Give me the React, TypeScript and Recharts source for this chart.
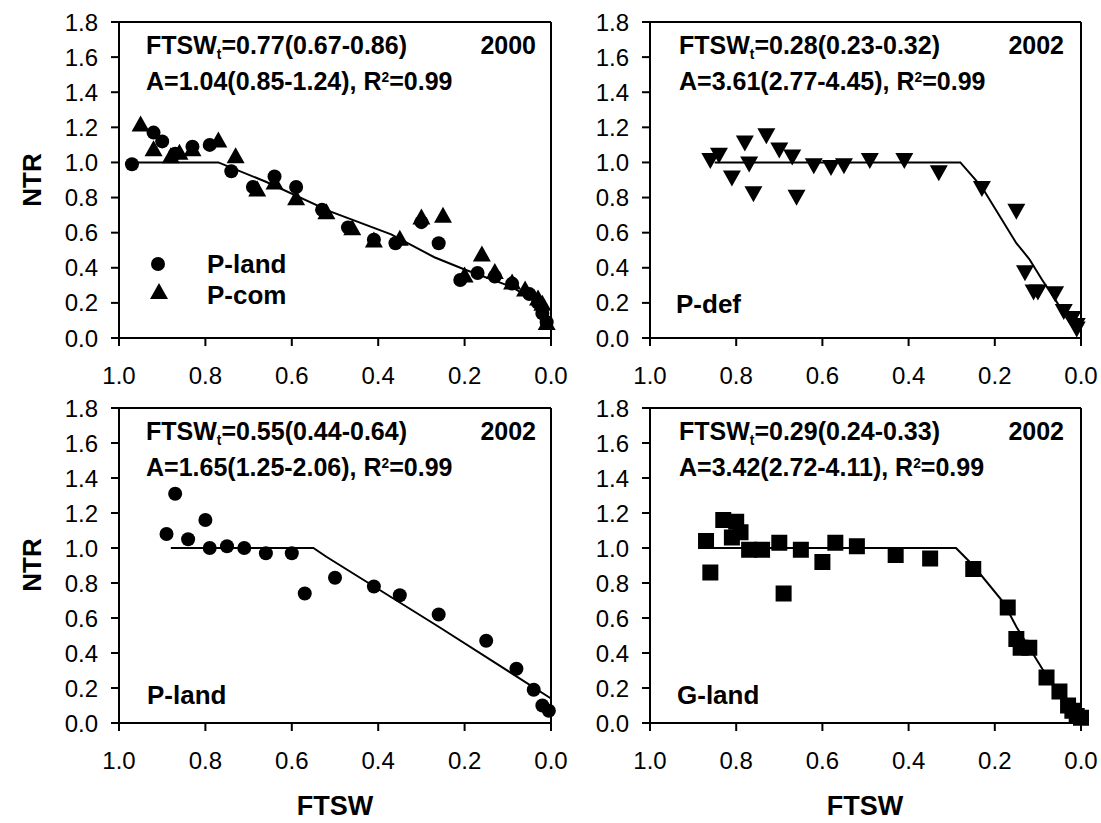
import React from "react";
import { ScatterChart, Scatter, XAxis, YAxis, ReferenceLine } from "recharts";

type Pt = { x: number; y: number };

const FONT = "'Liberation Sans', Arial, Helvetica, sans-serif";

const xTicks = [0, 0.2, 0.4, 0.6, 0.8, 1.0];
const yTicks = [0, 0.2, 0.4, 0.6, 0.8, 1.0, 1.2, 1.4, 1.6, 1.8];

// 2000, P-land (circles)
const pLand2000: Pt[] = [
  { x: 0.97, y: 0.99 }, { x: 0.92, y: 1.17 }, { x: 0.9, y: 1.12 }, { x: 0.87, y: 1.05 },
  { x: 0.83, y: 1.09 }, { x: 0.79, y: 1.1 }, { x: 0.74, y: 0.95 }, { x: 0.69, y: 0.86 },
  { x: 0.64, y: 0.92 }, { x: 0.59, y: 0.86 }, { x: 0.53, y: 0.73 }, { x: 0.47, y: 0.63 },
  { x: 0.41, y: 0.56 }, { x: 0.36, y: 0.54 }, { x: 0.3, y: 0.66 }, { x: 0.26, y: 0.54 },
  { x: 0.21, y: 0.33 }, { x: 0.17, y: 0.37 }, { x: 0.13, y: 0.35 }, { x: 0.09, y: 0.31 },
  { x: 0.05, y: 0.25 }, { x: 0.03, y: 0.2 }, { x: 0.02, y: 0.14 }, { x: 0.01, y: 0.09 },
];

// 2000, P-com (triangles)
const pCom2000: Pt[] = [
  { x: 0.95, y: 1.21 }, { x: 0.92, y: 1.07 }, { x: 0.88, y: 1.03 }, { x: 0.86, y: 1.05 },
  { x: 0.83, y: 1.07 }, { x: 0.77, y: 1.12 }, { x: 0.73, y: 1.03 }, { x: 0.68, y: 0.84 },
  { x: 0.64, y: 0.88 }, { x: 0.59, y: 0.79 }, { x: 0.52, y: 0.71 }, { x: 0.46, y: 0.62 },
  { x: 0.41, y: 0.55 }, { x: 0.35, y: 0.56 }, { x: 0.3, y: 0.68 }, { x: 0.25, y: 0.69 },
  { x: 0.2, y: 0.35 }, { x: 0.16, y: 0.47 }, { x: 0.13, y: 0.37 }, { x: 0.09, y: 0.31 },
  { x: 0.06, y: 0.27 }, { x: 0.03, y: 0.22 }, { x: 0.02, y: 0.19 }, { x: 0.01, y: 0.08 },
];

const fit2000: Pt[] = [
  { x: 0.97, y: 1.0 }, { x: 0.77, y: 1.0 }, { x: 0.66, y: 0.89 }, { x: 0.51, y: 0.72 },
  { x: 0.37, y: 0.59 }, { x: 0.27, y: 0.46 }, { x: 0.2, y: 0.39 }, { x: 0.09, y: 0.29 },
  { x: 0.03, y: 0.2 }, { x: 0.0, y: 0.1 },
];

// 2002, P-def (inverted triangles)
const pDef2002: Pt[] = [
  { x: 0.86, y: 1.02 }, { x: 0.84, y: 1.05 }, { x: 0.81, y: 0.92 }, { x: 0.78, y: 1.12 },
  { x: 0.77, y: 1.0 }, { x: 0.76, y: 0.83 }, { x: 0.73, y: 1.16 }, { x: 0.7, y: 1.08 },
  { x: 0.67, y: 1.04 }, { x: 0.66, y: 0.81 }, { x: 0.62, y: 0.99 }, { x: 0.58, y: 0.98 },
  { x: 0.55, y: 0.99 }, { x: 0.49, y: 1.02 }, { x: 0.41, y: 1.02 }, { x: 0.33, y: 0.95 },
  { x: 0.23, y: 0.86 }, { x: 0.15, y: 0.73 }, { x: 0.13, y: 0.38 }, { x: 0.11, y: 0.27 },
  { x: 0.1, y: 0.27 }, { x: 0.06, y: 0.26 }, { x: 0.04, y: 0.16 }, { x: 0.02, y: 0.12 },
  { x: 0.01, y: 0.08 }, { x: 0.01, y: 0.06 },
];

const fitPDef: Pt[] = [
  { x: 0.85, y: 1.0 }, { x: 0.28, y: 1.0 }, { x: 0.23, y: 0.86 }, { x: 0.15, y: 0.54 },
  { x: 0.12, y: 0.45 }, { x: 0.09, y: 0.33 }, { x: 0.06, y: 0.22 }, { x: 0.03, y: 0.1 },
  { x: 0.01, y: 0.03 },
];

// 2002, P-land (circles)
const pLand2002: Pt[] = [
  { x: 0.89, y: 1.08 }, { x: 0.87, y: 1.31 }, { x: 0.84, y: 1.05 }, { x: 0.8, y: 1.16 },
  { x: 0.79, y: 1.0 }, { x: 0.75, y: 1.01 }, { x: 0.71, y: 1.0 }, { x: 0.66, y: 0.97 },
  { x: 0.6, y: 0.97 }, { x: 0.57, y: 0.74 }, { x: 0.5, y: 0.83 }, { x: 0.41, y: 0.78 },
  { x: 0.35, y: 0.73 }, { x: 0.26, y: 0.62 }, { x: 0.15, y: 0.47 }, { x: 0.08, y: 0.31 },
  { x: 0.04, y: 0.19 }, { x: 0.02, y: 0.1 }, { x: 0.005, y: 0.07 },
];

const fitPLand2002: Pt[] = [
  { x: 0.88, y: 1.0 }, { x: 0.55, y: 1.0 }, { x: 0.52, y: 0.95 }, { x: 0.26, y: 0.55 },
  { x: 0.0, y: 0.14 },
];

// 2002, G-land (squares)
const gLand2002: Pt[] = [
  { x: 0.87, y: 1.04 }, { x: 0.86, y: 0.86 }, { x: 0.83, y: 1.16 }, { x: 0.8, y: 1.15 },
  { x: 0.79, y: 1.09 }, { x: 0.81, y: 1.06 }, { x: 0.77, y: 0.99 }, { x: 0.74, y: 0.99 },
  { x: 0.7, y: 1.03 }, { x: 0.69, y: 0.74 }, { x: 0.65, y: 0.99 }, { x: 0.6, y: 0.92 },
  { x: 0.57, y: 1.03 }, { x: 0.52, y: 1.01 }, { x: 0.43, y: 0.96 }, { x: 0.35, y: 0.94 },
  { x: 0.25, y: 0.88 }, { x: 0.17, y: 0.66 }, { x: 0.15, y: 0.48 }, { x: 0.14, y: 0.43 },
  { x: 0.12, y: 0.43 }, { x: 0.08, y: 0.26 }, { x: 0.05, y: 0.18 }, { x: 0.03, y: 0.1 },
  { x: 0.02, y: 0.07 }, { x: 0.01, y: 0.04 }, { x: 0.0, y: 0.03 },
];

const fitGLand2002: Pt[] = [
  { x: 0.86, y: 1.0 }, { x: 0.29, y: 1.0 }, { x: 0.25, y: 0.9 }, { x: 0.18, y: 0.69 },
  { x: 0.15, y: 0.55 }, { x: 0.09, y: 0.31 }, { x: 0.04, y: 0.14 }, { x: 0.0, y: 0.01 },
];

// marker shapes
const Dot = (p: any) => <circle cx={p.cx} cy={p.cy} r={7} fill="#000" />;
const TriUp = (p: any) => (
  <polygon points={`${p.cx},${p.cy - 10} ${p.cx - 9},${p.cy + 6} ${p.cx + 9},${p.cy + 6}`} fill="#000" />
);
const TriDown = (p: any) => (
  <polygon points={`${p.cx},${p.cy + 10} ${p.cx - 9},${p.cy - 6} ${p.cx + 9},${p.cy - 6}`} fill="#000" />
);
const Box = (p: any) => <rect x={p.cx - 8} y={p.cy - 8} width={16} height={16} fill="#000" />;
const NoDot = () => <g />;

const tickStyle = { fill: "#000", fontSize: 24, fontFamily: FONT };
const axisLine = { stroke: "#000", strokeWidth: 2 };

interface PanelProps {
  left: number;
  top: number;
  w: number;
  h: number;
  fit: Pt[];
  series: { data: Pt[]; shape: any }[];
}

const Panel: React.FC<PanelProps> = ({ left, top, w, h, fit, series }) => {
  const ml = 90;
  const mt = 20;
  const mb = 50;
  const mr = 30;
  return (
    <div style={{ position: "absolute", left: left - ml, top: top - mt }}>
      <ScatterChart width={w + ml + mr} height={h + mt + mb} margin={{ top: mt, right: mr, left: 0, bottom: 0 }}>
        <XAxis
          type="number"
          dataKey="x"
          domain={[0, 1]}
          reversed
          ticks={xTicks}
          interval={0}
          tickFormatter={(v: number) => v.toFixed(1)}
          height={mb}
          tickSize={8}
          tickMargin={21}
          axisLine={axisLine}
          tickLine={axisLine}
          tick={tickStyle}
        />
        <YAxis
          type="number"
          dataKey="y"
          domain={[0, 1.8]}
          ticks={yTicks}
          interval={0}
          tickFormatter={(v: number) => v.toFixed(1)}
          width={ml}
          tickSize={8}
          tickMargin={13}
          axisLine={axisLine}
          tickLine={axisLine}
          tick={tickStyle}
        />
        <ReferenceLine y={1.8} stroke="#000" strokeWidth={2} />
        <ReferenceLine x={0} stroke="#000" strokeWidth={2} />
        <Scatter data={fit} line={{ stroke: "#000", strokeWidth: 2 }} shape={NoDot} isAnimationActive={false} />
        {series.map((s, i) => (
          <Scatter key={i} data={s.data} shape={s.shape} isAnimationActive={false} />
        ))}
      </ScatterChart>
    </div>
  );
};

const Txt: React.FC<{ x: number; base: number; size?: number; right?: boolean; children: React.ReactNode }> = ({
  x,
  base,
  size = 25,
  right,
  children,
}) => (
  <div
    style={{
      position: "absolute",
      top: base - 0.8465 * size,
      ...(right ? { right: 1101 - x } : { left: x }),
      fontFamily: FONT,
      fontWeight: "bold",
      fontSize: size,
      lineHeight: 1,
      whiteSpace: "nowrap",
      color: "#000",
    }}
  >
    {children}
  </div>
);

const Sub = ({ c }: { c: string }) => (
  <span style={{ fontSize: "0.55em", position: "relative", top: "0.35em" }}>{c}</span>
);
const Sup = ({ c }: { c: string }) => (
  <span style={{ fontSize: "0.55em", position: "relative", top: "-0.6em" }}>{c}</span>
);

const L = { left: 119, w: 432 };
const R = { left: 650, w: 431 };
const T = { top: 22, h: 316 };
const B = { top: 408, h: 315 };

export default function App() {
  return (
    <div style={{ position: "absolute", left: 0, top: 0, width: 1101, height: 823, overflow: "hidden", background: "#fff" }}>
      <Panel left={L.left} w={L.w} top={T.top} h={T.h} fit={fit2000}
        series={[{ data: pLand2000, shape: Dot }, { data: pCom2000, shape: TriUp }]} />
      <Panel left={R.left} w={R.w} top={T.top} h={T.h} fit={fitPDef} series={[{ data: pDef2002, shape: TriDown }]} />
      <Panel left={L.left} w={L.w} top={B.top} h={B.h} fit={fitPLand2002} series={[{ data: pLand2002, shape: Dot }]} />
      <Panel left={R.left} w={R.w} top={B.top} h={B.h} fit={fitGLand2002} series={[{ data: gLand2002, shape: Box }]} />

      {/* top-left annotations */}
      <Txt x={146} base={54}>FTSW<Sub c="t" />=0.77(0.67-0.86)</Txt>
      <Txt x={146} base={90}>A=1.04(0.85-1.24), R<Sup c="2" />=0.99</Txt>
      <Txt x={536} base={54} right>2000</Txt>
      <svg style={{ position: "absolute", left: 0, top: 0 }} width={1101} height={823} pointerEvents="none">
        <circle cx={158} cy={264} r={7} fill="#000" />
        <polygon points="159,283 150,299 168,299" fill="#000" />
      </svg>
      <Txt x={207} base={273} size={26}>P-land</Txt>
      <Txt x={207} base={304} size={26}>P-com</Txt>

      {/* top-right annotations */}
      <Txt x={679} base={54}>FTSW<Sub c="t" />=0.28(0.23-0.32)</Txt>
      <Txt x={679} base={90}>A=3.61(2.77-4.45), R<Sup c="2" />=0.99</Txt>
      <Txt x={1064} base={54} right>2002</Txt>
      <Txt x={676} base={313} size={26}>P-def</Txt>

      {/* bottom-left annotations */}
      <Txt x={146} base={440}>FTSW<Sub c="t" />=0.55(0.44-0.64)</Txt>
      <Txt x={146} base={476}>A=1.65(1.25-2.06), R<Sup c="2" />=0.99</Txt>
      <Txt x={536} base={440} right>2002</Txt>
      <Txt x={147} base={704} size={26}>P-land</Txt>

      {/* bottom-right annotations */}
      <Txt x={679} base={440}>FTSW<Sub c="t" />=0.29(0.24-0.33)</Txt>
      <Txt x={679} base={476}>A=3.42(2.72-4.11), R<Sup c="2" />=0.99</Txt>
      <Txt x={1064} base={440} right>2002</Txt>
      <Txt x={677} base={704} size={26}>G-land</Txt>

      {/* axis titles */}
      <div style={{ position: "absolute", left: 32, top: 180, transform: "translate(-50%,-50%) rotate(-90deg)", fontFamily: FONT, fontWeight: "bold", fontSize: 26 }}>NTR</div>
      <div style={{ position: "absolute", left: 32, top: 565, transform: "translate(-50%,-50%) rotate(-90deg)", fontFamily: FONT, fontWeight: "bold", fontSize: 26 }}>NTR</div>
      <div style={{ position: "absolute", left: 335, top: 806, transform: "translate(-50%,-50%)", fontFamily: FONT, fontWeight: "bold", fontSize: 27 }}>FTSW</div>
      <div style={{ position: "absolute", left: 865, top: 806, transform: "translate(-50%,-50%)", fontFamily: FONT, fontWeight: "bold", fontSize: 27 }}>FTSW</div>
    </div>
  );
}
